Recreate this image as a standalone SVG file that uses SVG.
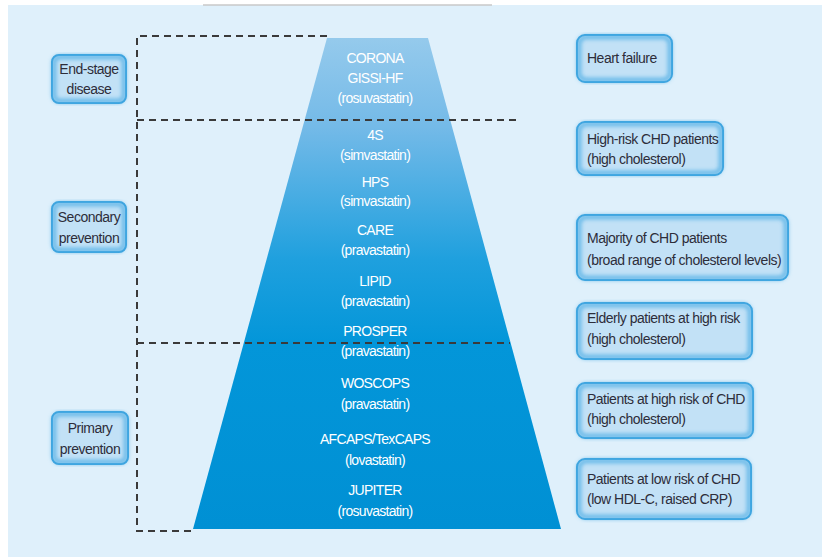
<svg xmlns="http://www.w3.org/2000/svg" width="822" height="557" viewBox="0 0 822 557">
  <defs>
    <linearGradient id="pyramidFill" x1="0" y1="38" x2="0" y2="530" gradientUnits="userSpaceOnUse">
      <stop offset="0" stop-color="#95caec"/>
      <stop offset="0.18" stop-color="#74bae8"/>
      <stop offset="0.45" stop-color="#1fa0de"/>
      <stop offset="0.62" stop-color="#0396d9"/>
      <stop offset="1" stop-color="#0090d4"/>
    </linearGradient>
    <filter id="innerGlow" x="-10%" y="-10%" width="120%" height="120%">
      <feGaussianBlur stdDeviation="2"/>
    </filter>
  </defs>
  <style>
    .panel { fill: #dff0fb; }
    .guide { fill: none; stroke: #3a3a3a; stroke-width: 2; stroke-dasharray: 7 5; }
    .box { fill: #c2e1f6; stroke: #2f9ddc; stroke-width: 2; }
    .glow { fill: none; stroke: #58b2e6; stroke-width: 4; filter: url(#innerGlow); }
    .study { font-family: "Liberation Sans", Arial, sans-serif; font-size: 14px; letter-spacing: -0.7px; fill: #ffffff; text-anchor: middle; }
    .label { font-family: "Liberation Sans", Arial, sans-serif; font-size: 14px; letter-spacing: -0.5px; fill: #2d2d3a; }
    .mid { text-anchor: middle; }
  </style>

  <!-- page background -->
  <rect x="0" y="0" width="822" height="557" fill="#ffffff"/>
  <rect class="panel" x="8" y="5" width="814" height="552"/>
  <rect x="203" y="0" width="289" height="5" fill="#ffffff"/>
  <line x1="203" y1="5" x2="492" y2="5" stroke="#c9c9c9" stroke-width="1.5"/>

  <!-- pyramid of trials -->
  <g id="pyramid">
    <polygon points="327,38 428,38 561,529 193,529" fill="url(#pyramidFill)"/>
    <text class="study" x="375" y="63">CORONA</text>
    <text class="study" x="375" y="83">GISSI-HF</text>
    <text class="study" x="375" y="103">(rosuvastatin)</text>
    <text class="study" x="375" y="140">4S</text>
    <text class="study" x="375" y="160">(simvastatin)</text>
    <text class="study" x="375" y="187">HPS</text>
    <text class="study" x="375" y="206">(simvastatin)</text>
    <text class="study" x="375" y="235">CARE</text>
    <text class="study" x="375" y="255">(pravastatin)</text>
    <text class="study" x="375" y="286">LIPID</text>
    <text class="study" x="375" y="306">(pravastatin)</text>
    <text class="study" x="375" y="336">PROSPER</text>
    <text class="study" x="375" y="356">(pravastatin)</text>
    <text class="study" x="375" y="388">WOSCOPS</text>
    <text class="study" x="375" y="409">(pravastatin)</text>
    <text class="study" x="375" y="444">AFCAPS/TexCAPS</text>
    <text class="study" x="375" y="465">(lovastatin)</text>
    <text class="study" x="375" y="495">JUPITER</text>
    <text class="study" x="375" y="516">(rosuvastatin)</text>
  </g>

  <!-- dashed bracket lines separating stages -->
  <g id="connectors">
    <polyline class="guide" points="327,36 137,36 137,531 193,531"/>
    <line class="guide" x1="137" y1="120" x2="517" y2="120"/>
    <line class="guide" x1="137" y1="343" x2="510" y2="343"/>
  </g>

  <!-- stage labels -->
  <g id="end-stage">
    <rect class="box" x="52" y="55" width="74" height="48" rx="7"/>
    <rect class="glow" x="54" y="57" width="70" height="44" rx="6"/>
    <text class="label mid" x="89" y="74">End-stage</text>
    <text class="label mid" x="89" y="94">disease</text>
  </g>
  <g id="secondary">
    <rect class="box" x="52" y="202" width="74" height="50" rx="7"/>
    <rect class="glow" x="54" y="204" width="70" height="46" rx="6"/>
    <text class="label mid" x="89" y="222">Secondary</text>
    <text class="label mid" x="89" y="243">prevention</text>
  </g>
  <g id="primary">
    <rect class="box" x="52" y="412" width="76" height="52" rx="7"/>
    <rect class="glow" x="54" y="414" width="72" height="48" rx="6"/>
    <text class="label mid" x="90" y="433">Primary</text>
    <text class="label mid" x="90" y="454">prevention</text>
  </g>

  <!-- patient populations -->
  <g id="heart-failure">
    <rect class="box" x="577" y="35" width="95" height="47" rx="8"/>
    <rect class="glow" x="579" y="37" width="91" height="43" rx="7"/>
    <text class="label" x="587" y="63">Heart failure</text>
  </g>
  <g id="high-risk-chd">
    <rect class="box" x="577" y="122" width="146" height="53" rx="8"/>
    <rect class="glow" x="579" y="124" width="142" height="49" rx="7"/>
    <text class="label" x="587" y="144">High-risk CHD patients</text>
    <text class="label" x="587" y="164">(high cholesterol)</text>
  </g>
  <g id="majority-chd">
    <rect class="box" x="577" y="215" width="211" height="65" rx="8"/>
    <rect class="glow" x="579" y="217" width="207" height="61" rx="7"/>
    <text class="label" x="587" y="243">Majority of CHD patients</text>
    <text class="label" x="587" y="265">(broad range of cholesterol levels)</text>
  </g>
  <g id="elderly">
    <rect class="box" x="577" y="303" width="175" height="56" rx="8"/>
    <rect class="glow" x="579" y="305" width="171" height="52" rx="7"/>
    <text class="label" x="587" y="323">Elderly patients at high risk</text>
    <text class="label" x="587" y="344">(high cholesterol)</text>
  </g>
  <g id="high-risk-primary">
    <rect class="box" x="577" y="383" width="176" height="55" rx="8"/>
    <rect class="glow" x="579" y="385" width="172" height="51" rx="7"/>
    <text class="label" x="587" y="404">Patients at high risk of CHD</text>
    <text class="label" x="587" y="424">(high cholesterol)</text>
  </g>
  <g id="low-risk-primary">
    <rect class="box" x="577" y="459" width="174" height="60" rx="8"/>
    <rect class="glow" x="579" y="461" width="170" height="56" rx="7"/>
    <text class="label" x="587" y="484">Patients at low risk of CHD</text>
    <text class="label" x="587" y="504">(low HDL-C, raised CRP)</text>
  </g>
</svg>
